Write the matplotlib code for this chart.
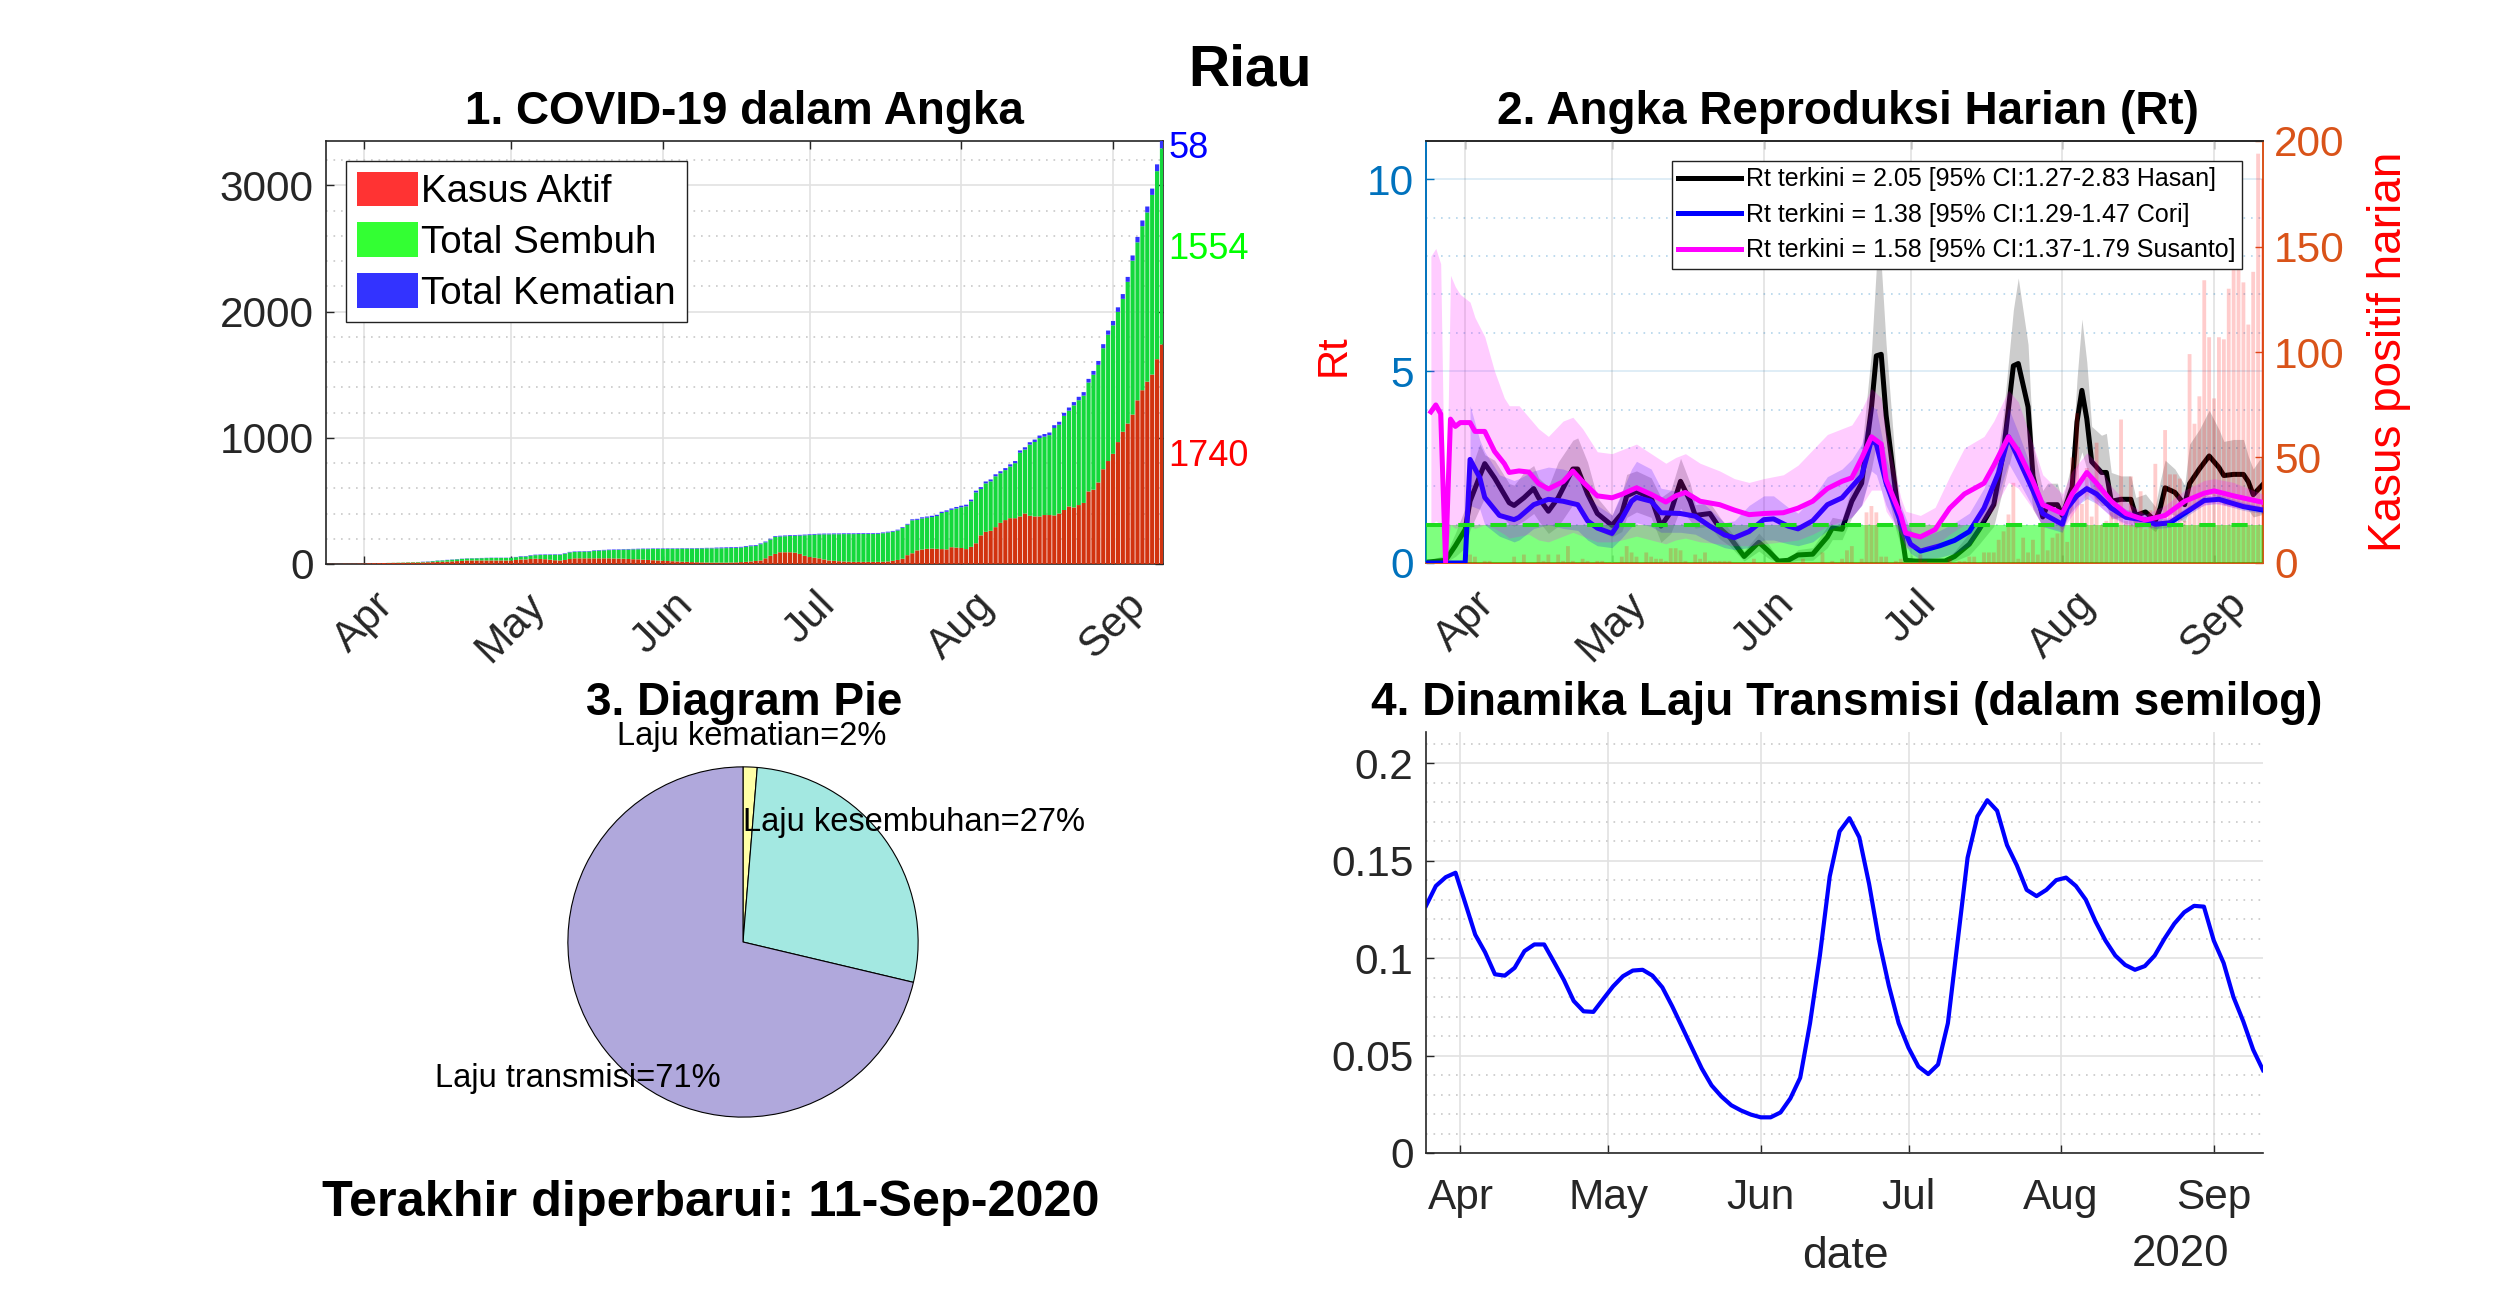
import matplotlib
matplotlib.use('Agg')
import matplotlib.pyplot as plt
import numpy as np
from matplotlib.patches import Patch
from matplotlib.lines import Line2D

plt.rcParams['font.family'] = ['Liberation Sans', 'DejaVu Sans']

W, H = 2500, 1292

month_labels = ['Apr', 'May', 'Jun', 'Jul', 'Aug', 'Sep']
month_ticks = ['2020-04-01', '2020-05-01', '2020-06-01', '2020-07-01', '2020-08-01', '2020-09-01']

# panel 1, daily from 24 Mar (day -8) to 11 Sep (day 163)
total_cases = [0, 1, 1, 1, 2, 2, 2, 3,
    3, 5, 6, 7, 8, 9, 10, 11, 12, 14, 15, 16, 18, 20, 24, 28, 30, 33, 36, 39, 42, 45, 46, 47, 48, 49, 50, 50, 50, 50, 51,
    56, 62, 63, 70, 74, 75, 76, 76, 77, 77, 85, 96, 99, 101, 102, 103, 108, 110, 112, 114, 115, 116, 118, 119, 120, 121, 122, 122, 123, 123,
    123, 124, 124, 124, 125, 125, 125, 126, 127, 128, 128, 130, 131, 132, 133, 134, 136, 142, 147, 150, 163, 178, 200, 221, 224, 226, 228, 229, 231, 233,
    235, 238, 240, 241, 241, 242, 242, 243, 243, 243, 244, 244, 244, 244, 246, 250, 256, 262, 272, 292, 318, 354, 358, 370, 376, 382, 390, 414, 425, 440,
    452, 462, 470, 510, 581, 609, 654, 670, 711, 735, 760, 790, 816, 900, 925, 965, 986, 1018, 1030, 1042, 1100, 1127, 1198, 1240, 1283, 1325, 1362,
    1467, 1530, 1609, 1742, 1850, 1926, 2034, 2139, 2275, 2445, 2592, 2722, 2833, 2975, 3167, 3352]
active_cases = [0, 1, 1, 1, 2, 2, 2, 3,
    3, 5, 6, 7, 8, 8, 9, 9, 10, 11, 12, 12, 13, 14, 15, 17, 18, 19, 21, 23, 25, 28, 28, 28, 28, 28, 28, 28, 28, 28, 28,
    32, 36, 36, 40, 42, 40, 38, 34, 30, 28, 32, 40, 45, 45, 45, 45, 45, 45, 45, 45, 44, 43, 42, 40, 38, 37, 34, 32, 30, 28,
    26, 24, 22, 20, 18, 17, 15, 14, 13, 12, 11, 11, 11, 11, 12, 13, 15, 17, 20, 24, 28, 45, 65, 80, 93, 93, 93, 90, 80, 65, 55,
    50, 45, 36, 28, 25, 22, 20, 18, 17, 17, 17, 17, 17, 17, 18, 20, 25, 32, 42, 70, 85, 108, 115, 120, 122, 120, 118, 116, 133, 130,
    127, 118, 136, 164, 227, 255, 263, 292, 326, 348, 363, 363, 377, 400, 382, 377, 377, 388, 388, 385, 400, 428, 456, 448, 467, 484,
    575, 589, 646, 751, 816, 873, 966, 1048, 1113, 1184, 1297, 1377, 1445, 1501, 1623, 1740]
deaths = [0] * 20 + [2] * 20 + [4] * 40 + [6] * 40 + [
    8, 8, 9, 9, 10, 10, 10, 11, 11, 12, 12, 13, 13, 14, 14, 15, 15, 16, 16, 16,
    17, 17, 18, 18, 19, 19, 20, 21, 21, 22, 23, 24, 25, 26, 27, 28, 29, 30, 31, 32,
    33, 35, 36, 38, 39, 41, 43, 45, 47, 50, 54, 58]

# panel 2, daily positive cases, same days
daily_cases = [0, 0, 0, 0, 0, 0, 0, 0, 0,
    4, 3, 0, 1, 1, 0, 0, 0, 0, 3, 0, 4, 0, 0, 4, 1, 4, 0, 4, 1, 8, 1, 0, 2, 1, 0, 1, 1, 0, 0,
    0, 3, 8, 5, 3, 0, 5, 3, 2, 2, 1, 7, 7, 6, 1, 0, 4, 2, 5, 1, 1, 1, 1, 1, 0, 0, 0, 0, 2, 0,
    0, 0, 0, 0, 0, 0, 0, 0, 2, 0, 0, 0, 5, 0, 1, 0, 2, 6, 8, 0, 2, 24, 27, 24, 3, 3, 0, 1, 2, 0,
    0, 0, 4, 1, 0, 0, 0, 0, 2, 0, 1, 1, 3, 3, 0, 5, 5, 5, 11, 15, 23, 38, 2, 12, 5, 11, 4, 18, 6, 12,
    14, 18, 10, 50, 71, 28, 45, 22, 57, 18, 20, 24, 26, 68, 20, 41, 22, 34, 16, 25, 47, 20, 63, 42, 42, 40, 20,
    99, 66, 79, 134, 107, 78, 107, 106, 130, 178, 140, 133, 113, 138, 194, 182]

hasan_days = [-8, -4, -2, 0, 1, 3, 4, 6, 9, 10, 12, 14, 15, 17, 19, 22, 23, 25, 27, 30, 32, 33, 35, 38, 40, 42, 44, 46, 47, 50,
    52, 54, 57, 60, 62, 64, 66, 68, 71, 74, 75, 77, 79, 81, 83, 84, 85, 86, 88, 90, 92, 98, 100, 103, 105, 108, 110, 112, 113, 115,
    116, 118, 119, 121, 122, 124, 125, 126, 127, 128, 130, 131, 132, 134, 136, 137, 139, 141, 142, 143, 145, 147, 148, 150, 152, 154, 155, 157, 159, 160, 161, 163]
hasan_rt = [.02, .07, .45, .87, 1.61, 2.27, 2.59, 2.22, 1.57, 1.50, 1.70, 1.94, 1.70, 1.35, 1.70, 2.45, 2.45, 1.80, 1.29, .98, 1.29, 1.75, 1.87, 1.70, .96, 1.33, 2.13, 1.61, 1.24, 1.29,
    .91, .68, .17, .54, .31, .05, .07, .21, .23, .68, .91, .88, 1.61, 2.08, 4.04, 5.4, 5.44, 3.85, 1.80, .07, .05, .05, .17, .49, .87, 1.52, 2.92, 5.14, 5.2, 4.07,
    2.27, 1.2, 1.52, 1.52, 1.24, 1.98, 3.68, 4.5, 3.76, 2.64, 2.36, 2.36, 1.61, 1.66, 1.66, 1.24, 1.33, 1.10, 1.43, 1.96, 1.84, 1.52, 2.07, 2.45, 2.79, 2.49, 2.28, 2.31, 2.31, 2.12, 1.78, 2.05]
hasan_up = [.05, .21, .78, 1.43, 2.36, 3.10, 2.82, 2.68, 2.07, 2.03, 2.36, 2.54, 2.22, 1.98, 2.63, 3.2, 3.26, 2.63, 1.70, 1.24, 1.80, 2.31, 2.4, 2.22, 1.71, 1.89, 2.73, 2.07, 1.52, 1.57,
    1.2, .87, .31, .78, .49, .08, .1, .35, .40, .96, 1.19, 1.14, 1.98, 2.91, 5.5, 7.7, 7.8, 5.7, 2.45, .17, .08, .08, .31, .78, 1.24, 2.08, 3.9, 6.6, 7.43, 5.7,
    3.1, 1.89, 2.08, 2.08, 1.61, 2.65, 4.8, 6.36, 5.24, 3.56, 3.33, 3.38, 2.36, 2.27, 2.27, 1.71, 1.8, 1.47, 2.13, 2.68, 2.45, 2.03, 3.1, 3.48, 3.98, 3.48, 3.17, 3.22, 3.22, 2.78, 2.45, 2.83]
hasan_lo = [0, .02, .17, .40, .87, 1.43, 1.71, 1.43, 1.01, .96, 1.10, 1.29, 1.10, .77, .96, 1.52, 1.57, 1.10, .87, .68, .82, 1.19, 1.33, 1.19, .54, .77, 1.43, 1.10, .91, .96,
    .63, .45, .05, .31, .12, .01, .03, .07, .07, .40, .61, .61, 1.19, 1.52, 2.45, 3.1, 3.1, 2.0, .87, .02, .01, .01, .05, .21, .49, .96, 2.0, 3.0, 3.0, 2.36,
    1.4, .96, 1.0, 1.0, .87, 1.43, 2.45, 2.9, 2.45, 1.8, 1.5, 1.5, 1.15, 1.19, 1.19, .91, 1.0, .82, 1.0, 1.33, 1.24, 1.05, 1.43, 1.61, 1.8, 1.71, 1.52, 1.52, 1.52, 1.38, 1.2, 1.27]

cori_days = [1, 3, 4, 7, 10, 11, 14, 17, 20, 23, 25, 27, 30, 32, 34, 35, 38, 40, 44, 47, 50, 53, 55, 58, 61, 63, 66, 68, 71, 74,
    77, 79, 81, 83, 84, 86, 89, 91, 93, 97, 100, 103, 106, 109, 111, 113, 116, 118, 122, 123, 125, 127, 129, 132, 135, 139, 141, 144, 148, 151, 154, 159, 163]
cori_rt = [2.7, 2.22, 1.71, 1.24, 1.13, 1.19, 1.52, 1.66, 1.61, 1.52, 1.10, .91, .77, 1.15, 1.61, 1.71, 1.61, 1.31, 1.29, 1.22, .96, .73, .66, .82, 1.13, 1.15, .96, .89, 1.10, 1.52,
    1.70, 1.99, 2.27, 3.20, 3.10, 2.08, 1.05, .49, .31, .45, .59, .82, 1.43, 2.36, 3.29, 2.73, 1.89, 1.29, 1.01, 1.43, 1.75, 1.94, 1.80, 1.43, 1.19, 1.12, 1.01, 1.05, 1.38, 1.63, 1.66, 1.47, 1.38]
cori_up = [4.1, 3.2, 2.9, 2.3, 2.15, 2.2, 2.4, 2.5, 2.45, 2.3, 1.75, 1.5, 1.25, 1.85, 2.45, 2.65, 2.45, 1.95, 1.85, 1.75, 1.4, 1.05, 1.1, 1.5, 1.75, 1.75, 1.45, 1.3, 1.7, 2.25,
    2.45, 2.7, 3.1, 4.1, 4.0, 2.75, 1.5, .85, .65, .85, 1.05, 1.3, 1.95, 3.0, 4.05, 3.4, 2.35, 1.65, 1.3, 1.65, 2.05, 2.25, 2.05, 1.65, 1.4, 1.27, 1.15, 1.18, 1.5, 1.75, 1.78, 1.58, 1.47]
cori_lo = [1.5, 1.4, 1.0, .7, .55, .6, .9, 1.0, .9, .85, .6, .45, .4, .65, .95, 1.05, .95, .8, .8, .75, .55, .4, .35, .4, .6, .6, .5, .45, .55, .85,
    1.0, 1.2, 1.5, 2.4, 2.3, 1.5, .7, .25, .1, .15, .25, .45, 1.0, 1.8, 2.6, 2.15, 1.45, .95, .8, 1.2, 1.5, 1.68, 1.55, 1.22, 1.02, .98, .9, .93, 1.27, 1.52, 1.55, 1.37, 1.29]
cori_start_days = [-8, 0]
cori_start_rt = [0, 0]

susanto_days = [-7, -6, -5, -4, -3, -2, -1, 1, 2, 4, 6, 8, 9, 11, 13, 15, 17, 20, 22, 24, 27, 30, 32, 35, 38, 41, 43, 45, 48, 52,
    55, 58, 61, 65, 68, 71, 74, 77, 79, 81, 83, 85, 86, 89, 90, 93, 96, 99, 102, 106, 108, 111, 113, 116, 118, 122, 124, 127, 129, 132, 135, 139, 143, 147, 151, 153, 157, 163]
susanto_rt = [3.94, 4.12, 3.89, .02, 3.75, 3.56, 3.66, 3.66, 3.43, 3.43, 2.91, 2.59, 2.36, 2.40, 2.37, 2.07, 1.93, 2.12, 2.40, 2.12, 1.75, 1.70, 1.79, 1.96, 1.79, 1.59, 1.75, 1.84, 1.61, 1.52,
    1.38, 1.26, 1.29, 1.31, 1.43, 1.61, 1.94, 2.13, 2.22, 2.73, 3.29, 3.10, 2.17, 1.24, .78, .68, .87, 1.43, 1.80, 2.08, 2.54, 3.29, 2.92, 2.13, 1.52, 1.29, 1.80, 2.36, 2.08, 1.61, 1.29, 1.12, 1.24, 1.61, 1.82, 1.88, 1.75, 1.58]
susanto_up = [8.0, 8.2, 7.8, 0, 7.5, 7.2, 7.0, 6.8, 6.4, 5.9, 5.0, 4.3, 4.1, 4.1, 3.8, 3.5, 3.3, 3.7, 3.8, 3.5, 2.9, 2.85, 2.95, 3.1, 2.85, 2.6, 2.75, 2.85, 2.6, 2.4,
    2.2, 2.1, 2.2, 2.3, 2.55, 2.95, 3.35, 3.5, 3.6, 4.0, 4.55, 4.3, 3.4, 1.7, 1.35, 1.24, 1.45, 2.26, 3.0, 3.3, 3.7, 4.5, 4.2, 3.1, 2.3, 1.8, 2.4, 2.87, 2.63, 2.0, 1.6, 1.27, 1.5, 1.9, 2.15, 2.2, 2.1, 1.79]
susanto_lo = [1.0, 1.1, 1.0, 0, 1.0, .9, .95, .95, .9, 1.0, .9, .75, .65, .7, .75, .6, .55, .7, .8, .7, .55, .55, .6, .7, .6, .5, .6, .65, .55, .5,
    .45, .45, .5, .55, .6, .75, .95, 1.1, 1.2, 1.5, 1.9, 1.9, 1.35, .75, .4, .35, .45, .75, 1.0, 1.1, 1.4, 2.1, 1.95, 1.4, .95, .85, 1.25, 1.8, 1.55, 1.2, .98, .9, 1.0, 1.3, 1.5, 1.55, 1.45, 1.37]

legend_rt = ['Rt terkini = 2.05 [95% CI:1.27-2.83 Hasan]',
             'Rt terkini = 1.38 [95% CI:1.29-1.47 Cori]',
             'Rt terkini = 1.58 [95% CI:1.37-1.79 Susanto]']

# panel 3
pie_values = [1.3, 27.4, 71.3]
pie_labels = ['Laju kematian=2%', 'Laju kesembuhan=27%', 'Laju transmisi=71%']

# panel 4, every second day from 25 Mar
trans_days = list(range(-7, 164, 2))
trans_rate = [.1268, .137, .1415, .1438, .128, .112, .103, .0917, .091, .095, .1036, .107, .107, .098, .0888, .078, .0727, .0724, .079, .0855,
    .0907, .0936, .094, .091, .085, .0753, .0647, .054, .0434, .0347, .029, .0245, .0218, .0197, .0183, .0183, .0208, .028, .0386, .0666,
    .1013, .1419, .165, .1718, .162, .138, .109, .0859, .0666, .054, .0444, .0405, .0454, .0666, .109, .1515, .1727, .181, .1756, .158,
    .1476, .135, .1318, .135, .14, .1413, .137, .130, .1187, .109, .1013, .0965, .094, .0959, .1013, .110, .1177, .1235, .1268, .1264,
    .109, .0975, .080, .0675, .053, .0425]


def to_dates(days):
    return np.datetime64('2020-04-01') + np.array(days, dtype='timedelta64[D]')


def box(x0, y0, x1, y1):
    # pixel box to figure fraction
    return [x0 / W, 1 - y1 / H, (x1 - x0) / W, (y1 - y0) / H]


def fig_text(x, y, s, **kw):
    fig.text(x / W, 1 - (y + 3) / H, s, ha=kw.pop('ha', 'center'), va='center', **kw)


bar_days = np.arange(-8, 164)
bar_dates = to_dates(bar_days)
ticks = np.array(month_ticks, dtype='datetime64[D]')

fig = plt.figure(figsize=(W / 100, H / 100), dpi=100)

fig_text(1250, 68, 'Riau', fontsize=41, fontweight='bold')
fig_text(744, 109, '1. COVID-19 dalam Angka', fontsize=33, fontweight='bold')
fig_text(1848, 109, '2. Angka Reproduksi Harian (Rt)', fontsize=33, fontweight='bold')
fig_text(744, 700, '3. Diagram Pie', fontsize=33, fontweight='bold')
fig_text(1847, 700, '4. Dinamika Laju Transmisi (dalam semilog)', fontsize=33, fontweight='bold')
fig_text(711, 1200, 'Terakhir diperbarui: 11-Sep-2020', fontsize=36.3, fontweight='bold')

DARK = '#262626'
MAJOR = '#E2E2E2'
MINOR = '#C8C8C8'
DOTS = (0, (1, 3.5))

# 1. stacked bars
ax1 = fig.add_axes(box(326, 141, 1163, 564))
active = np.array(active_cases)
dead = np.array(deaths)
recovered = np.array(total_cases) - active - dead
ax1.bar(bar_dates, active, width=0.85, color='#D2330F', zorder=3, snap=False)
ax1.bar(bar_dates, recovered, width=0.85, bottom=active, color='#14D83C', zorder=3, snap=False)
ax1.bar(bar_dates, dead, width=0.85, bottom=active + recovered, color='#3333FF', zorder=3, snap=False)
ax1.set_xlim(to_dates([-8])[0] + np.timedelta64(5, 'h'), to_dates([163])[0] + np.timedelta64(5, 'h'))
ax1.set_ylim(0, 3352)
ax1.set_yticks([0, 1000, 2000, 3000])
ax1.set_yticks(np.arange(200, 3352, 200), minor=True)
ax1.set_xticks(ticks)
ax1.set_xticklabels(month_labels, rotation=45, ha='center', va='top')
ax1.grid(True, which='major', color=MAJOR, linewidth=1.2, zorder=0)
ax1.grid(True, which='minor', axis='y', color=MINOR, linestyle=DOTS, linewidth=1.2, zorder=0)
ax1.set_axisbelow(True)
ax1.tick_params(axis='both', which='major', labelsize=30.5, colors=DARK, direction='in', length=6, width=1, top=True, right=True)
ax1.tick_params(axis='x', pad=15)
ax1.tick_params(axis='y', pad=9)
ax1.tick_params(which='minor', length=0)
for s in ax1.spines.values():
    s.set_color(DARK)
    s.set_linewidth(1.2)
label_x = to_dates([164])[0] + np.timedelta64(8, 'h')
ax1.text(label_x, 3290, '58', color='#0000FF', fontsize=26, va='center', clip_on=False)
ax1.text(label_x, 2495, '1554', color='#00FF00', fontsize=26, va='center', clip_on=False)
ax1.text(label_x, 850, '1740', color='#FF0000', fontsize=26, va='center', clip_on=False)
ax1.legend(handles=[Patch(facecolor='#FF3333', label='Kasus Aktif'),
                    Patch(facecolor='#33FF33', label='Total Sembuh'),
                    Patch(facecolor='#3333FF', label='Total Kematian')],
           loc='upper left', bbox_to_anchor=(346 / W, 1 - 161 / H), bbox_transform=fig.transFigure,
           borderaxespad=0, fontsize=27.7, frameon=True, fancybox=False, framealpha=1, edgecolor='#222222',
           handlelength=1.6, handleheight=1.0, labelspacing=0.32, handletextpad=0.08, borderpad=0.28)

# 2. Rt with confidence bands, daily cases against the right axis
ax2r = fig.add_axes(box(1426, 141, 2263, 563))
ax2 = fig.add_axes(box(1426, 141, 2263, 563), sharex=ax2r)
ax2.patch.set_visible(False)
ax2r.set_ylim(0, 200)
ax2.set_ylim(0, 11)
ax2r.set_xlim(to_dates([-8])[0], to_dates([163])[0])

h_dates = to_dates(hasan_days)
c_dates = to_dates(cori_days)
s_dates = to_dates(susanto_days)
ax2.fill_between(h_dates, hasan_lo, hasan_up, color='k', alpha=0.2, linewidth=0, zorder=2)
ax2.plot(h_dates, hasan_rt, color='k', linewidth=3.6, zorder=2.5)
ax2.fill_between(bar_dates, 0, 1, color='#00FF00', alpha=0.5, linewidth=0, zorder=3)
ax2.bar(bar_dates, daily_cases, width=0.78, color='#FF0000', alpha=0.2, linewidth=0, transform=ax2r.transData, zorder=3.5, snap=False)
ax2.fill_between(c_dates, cori_lo, cori_up, color='#0000FF', alpha=0.2, linewidth=0, zorder=4)
ax2.plot(to_dates(cori_start_days + cori_days), cori_start_rt + cori_rt, color='#0000FF', linewidth=3.6, zorder=4.5)
ax2.fill_between(s_dates, susanto_lo, susanto_up, color='#FF00FF', alpha=0.2, linewidth=0, zorder=5)
ax2.plot(s_dates, susanto_rt, color='#FF00FF', linewidth=3.6, zorder=5.5)
ax2.plot(bar_dates, [1] * len(bar_dates), color='#1EDC1E', linewidth=2.9, dashes=(4, 4), zorder=6)
ax2.set_ylim(0, 11)
ax2r.set_ylim(0, 200)
ax2r.set_xlim(to_dates([-8])[0], to_dates([163])[0])

BLUE_AX = (0, 0.447, 0.741)
ORANGE_AX = (0.85, 0.325, 0.098)
ax2.set_yticks([0, 5, 10])
ax2.set_yticks([1, 2, 3, 4, 6, 7, 8, 9], minor=True)
ax2.grid(True, which='major', axis='y', color=BLUE_AX, alpha=0.15, linewidth=1.2, zorder=0)
ax2.grid(True, which='minor', axis='y', color=BLUE_AX, alpha=0.3, linestyle=DOTS, linewidth=1.2, zorder=0)
ax2.grid(True, which='major', axis='x', color=MAJOR, linewidth=1.2, zorder=0)
ax2.set_axisbelow(True)
ax2.tick_params(which='minor', length=0)
ax2.tick_params(axis='y', which='major', labelsize=30.5, colors=BLUE_AX, direction='in', length=6, width=1, pad=9)
ax2.tick_params(axis='x', which='major', labelbottom=False, bottom=False)
ax2r.yaxis.tick_right()
ax2r.set_yticks([0, 50, 100, 150, 200])
ax2r.tick_params(axis='y', labelsize=30.5, colors=ORANGE_AX, direction='in', length=6, width=1, pad=8)
ax2r.set_xticks(ticks)
ax2r.set_xticklabels(month_labels, rotation=45, ha='center', va='top')
ax2r.tick_params(axis='x', labelsize=30.5, labelcolor=DARK, color=DARK, direction='in', length=6, width=1, top=True, pad=15)
for a in (ax2, ax2r):
    a.spines['top'].set_color(DARK)
    a.spines['left'].set_color(BLUE_AX)
    a.spines['right'].set_color(ORANGE_AX)
    a.spines['bottom'].set_color(ORANGE_AX)
    for s in a.spines.values():
        s.set_linewidth(1.2)
ax2.legend(handles=[Line2D([], [], color=c, linewidth=3.6, label=t) for c, t in zip(['k', '#0000FF', '#FF00FF'], legend_rt)],
           loc='upper left', bbox_to_anchor=(1672 / W, 1 - 161 / H), bbox_transform=fig.transFigure,
           borderaxespad=0, fontsize=18, frameon=True, fancybox=False, framealpha=1, edgecolor='#222222',
           handlelength=2.5, labelspacing=0.46, handletextpad=0.2, borderpad=0.25)
fig_text(1334, 352, 'Rt', color='#FF0000', fontsize=30, rotation=90)
fig_text(2389, 349, 'Kasus positif harian', color='#FF0000', fontsize=33, rotation=90)

# 3. pie
ax3 = fig.add_axes(box(743 - 176, 942 - 176, 743 + 176, 942 + 176))
ax3.pie(pie_values, colors=['#FFFFA6', '#A3E8E1', '#B0A8DC'], startangle=90, counterclock=False, radius=1,
        wedgeprops={'edgecolor': 'k', 'linewidth': 0.8})
ax3.set_xlim(-1.005, 1.005)
ax3.set_ylim(-1.005, 1.005)
fig_text(752, 733, pie_labels[0], fontsize=23.5, zorder=10)
fig_text(743, 819, pie_labels[1], fontsize=23.5, ha='left', zorder=10)
fig_text(435, 1076, pie_labels[2], fontsize=23.5, ha='left', zorder=10)

# 4. transmission rate
ax4 = fig.add_axes(box(1426, 732, 2263, 1153))
ax4.plot(to_dates(trans_days), trans_rate, color='#0000FF', linewidth=3, solid_joinstyle='round')
ax4.set_xlim(to_dates([-7])[0], to_dates([163])[0])
ax4.set_ylim(0, 0.216)
ax4.set_yticks([0, 0.05, 0.1, 0.15, 0.2])
ax4.set_yticklabels(['0', '0.05', '0.1', '0.15', '0.2'])
ax4.set_yticks([v / 100 for v in range(1, 22) if v % 5 != 0], minor=True)
ax4.set_xticks(ticks)
ax4.set_xticklabels(month_labels)
ax4.grid(True, which='major', color=MAJOR, linewidth=1.2)
ax4.grid(True, which='minor', axis='y', color=MINOR, linestyle=DOTS, linewidth=1.2)
ax4.set_axisbelow(True)
ax4.spines['top'].set_visible(False)
ax4.spines['right'].set_visible(False)
for s in ('left', 'bottom'):
    ax4.spines[s].set_color(DARK)
    ax4.spines[s].set_linewidth(1.2)
ax4.tick_params(axis='both', which='major', labelsize=30.5, colors=DARK, direction='in', length=6, width=1)
ax4.tick_params(axis='x', pad=18)
ax4.tick_params(axis='y', pad=9)
ax4.tick_params(which='minor', length=0)
fig_text(1845, 1253, 'date', fontsize=32, color=DARK)
fig_text(2181, 1251, '2020', fontsize=31.5, color=DARK)

fig.savefig('out.png', dpi=100, facecolor='white')
